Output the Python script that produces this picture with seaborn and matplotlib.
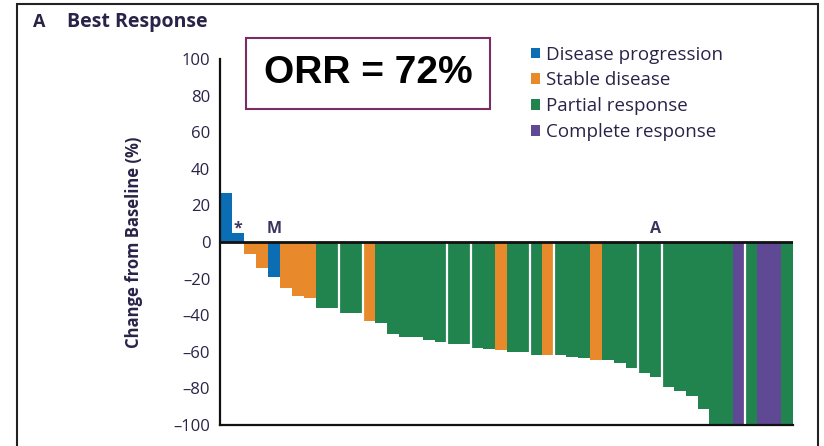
import matplotlib
matplotlib.use("Agg")
import matplotlib.pyplot as plt
import seaborn as sns
import pandas as pd
from matplotlib.patches import Patch, Rectangle

# ---- data ----
values = [27, 5, -6.5, -14, -19, -25, -29.5, -30.7, -36, -36,
          -39, -39, -43, -44.5, -50, -52, -52, -53.5, -54.8, -56,
          -56, -58, -58.6, -59, -60, -60, -61.7, -61.7, -61.7, -63,
          -63.5, -64.5, -64.5, -66, -68.8, -71.5, -74, -79.5, -81.4, -84.3,
          -91, -100, -100, -100, -100, -100, -100, -100]
responses = ["PD", "PD", "SD", "SD", "PD", "SD", "SD", "SD", "PR", "PR",
             "PR", "PR", "SD", "PR", "PR", "PR", "PR", "PR", "PR", "PR",
             "PR", "PR", "PR", "SD", "PR", "PR", "PR", "SD", "PR", "PR",
             "PR", "SD", "PR", "PR", "PR", "PR", "PR", "PR", "PR", "PR",
             "PR", "PR", "PR", "CR", "PR", "CR", "CR", "PR"]
annotations = {1: "*", 4: "M", 36: "A"}
gap_after = [9, 11, 18, 20, 25, 27, 34, 36, 43]
legend_labels = {"PD": "Disease progression", "SD": "Stable disease",
                 "PR": "Partial response", "CR": "Complete response"}
palette = {"PD": "#0b6db3", "SD": "#e8892b", "PR": "#21844f", "CR": "#5f4894"}
orr_text = "ORR = 72%"
yticks = [100, 80, 60, 40, 20, 0, -20, -40, -60, -80, -100]
ytick_labels = ["100", "80", "60", "40", "20", "0", "\u201320", "\u201340", "\u201360", "\u201380", "\u2013100"]

df = pd.DataFrame({"patient": list(range(len(values))), "change": values, "response": responses})

text_color = "#2a2348"

sns.set_style("white")
plt.rcParams["font.family"] = ["Open Sans", "DejaVu Sans"]

fig = plt.figure(figsize=(8.24, 4.46), dpi=100)
ax = fig.add_axes([220/824, 1-425/446, (793-220)/824, (425-59)/446])

sns.barplot(data=df, x="patient", y="change", hue="response", palette=palette,
            dodge=False, width=1.0, legend=False, ax=ax, saturation=1,
            linewidth=0, zorder=2)

n = len(values)
ax.set_xlim(-0.5, n - 0.5)
ax.set_ylim(-100, 100)

# thin white separators between some bars
for i in gap_after:
    ax.axvline(i + 0.5, color="white", lw=1.6, zorder=3)

ax.axhline(0, color="#111111", lw=2.0, zorder=4)

for i, s in annotations.items():
    ax.text(i, 3, s, ha="center", va="bottom", fontsize=11.5, fontweight="bold",
            color="#3a3560", zorder=5)

ax.set_yticks(yticks)
ax.set_yticklabels(ytick_labels, fontsize=12, color=text_color)
ax.set_xticks([])
ax.set_xlabel("")
ax.set_ylabel("Change from Baseline (%)", fontsize=12, fontweight="bold",
              color=text_color, labelpad=22)
ax.tick_params(axis="y", direction="out", length=6, width=1.5, color="#111111", pad=1)
for side in ["top", "right"]:
    ax.spines[side].set_visible(False)
for side in ["left", "bottom"]:
    ax.spines[side].set_linewidth(1.6)
    ax.spines[side].set_color("#111111")
    ax.spines[side].set_zorder(6)

# ORR box
fig.text(368/824, 1-73/446, orr_text, ha="center", va="center", fontsize=28,
         fontweight="bold", family=["Liberation Sans", "DejaVu Sans"], color="black",
         bbox=dict(boxstyle="square,pad=0.45", fc="white", ec="#7a2d62", lw=1.5))

# legend
handles = [Patch(facecolor=palette[k], edgecolor="none", label=v) for k, v in legend_labels.items()]
fig.legend(handles=handles, loc="upper left", bbox_to_anchor=(523/824, 1-38/446),
           frameon=False, fontsize=13.5, handlelength=0.5, handleheight=0.5,
           handletextpad=0.35, labelspacing=0.42, labelcolor=text_color, borderaxespad=0)

# title
fig.text(33/824, 1-22/446, "A", fontsize=13, fontweight="bold", color=text_color, va="center")
fig.text(67/824, 1-22/446, "Best Response", fontsize=14, fontweight="bold", color=text_color, va="center")

# outer frame
fig.patches.append(Rectangle((17/824, -0.02), (818-17)/824, 1.02 - 4/446,
                             transform=fig.transFigure, fill=False, ec="#222222", lw=1.5))

fig.savefig("out.png", dpi=100)
